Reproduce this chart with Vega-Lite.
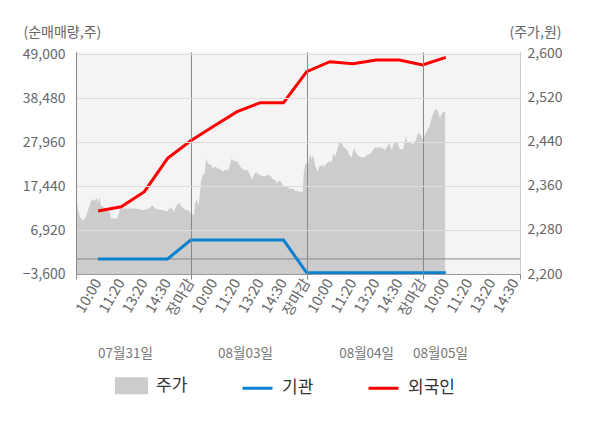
{
  "$schema": "https://vega.github.io/schema/vega-lite/v6.json",
  "width": 444,
  "height": 222,
  "autosize": {"type": "none"},
  "padding": {"left": 76, "top": 52, "right": 80, "bottom": 154},
  "config": {
    "font": "Noto Sans CJK KR",
    "view": {"stroke": null, "fill": "#f4f4f4"},
    "axis": {"titleFontWeight": "normal", "labelFontSize": 14, "titleFontSize": 14, "titleColor": "#666666", "labelColor": "#666666"},
    "legend": {"title": null}
  },
  "datasets": {
    "price": [
      {"t": -0.95, "price": 2347}, {"t": -0.86, "price": 2316}, {"t": -0.75, "price": 2302}, {"t": -0.63, "price": 2297},
      {"t": -0.53, "price": 2304}, {"t": -0.43, "price": 2316}, {"t": -0.32, "price": 2331}, {"t": -0.25, "price": 2336},
      {"t": -0.14, "price": 2333}, {"t": -0.06, "price": 2338}, {"t": 0.0, "price": 2329}, {"t": 0.05, "price": 2341},
      {"t": 0.12, "price": 2325}, {"t": 0.26, "price": 2321}, {"t": 0.4, "price": 2318}, {"t": 0.52, "price": 2310},
      {"t": 0.57, "price": 2301}, {"t": 0.83, "price": 2301}, {"t": 0.89, "price": 2310}, {"t": 0.95, "price": 2319},
      {"t": 1.12, "price": 2319}, {"t": 1.55, "price": 2319}, {"t": 1.77, "price": 2318}, {"t": 1.91, "price": 2316},
      {"t": 2.2, "price": 2319}, {"t": 2.34, "price": 2325}, {"t": 2.49, "price": 2318}, {"t": 2.84, "price": 2316},
      {"t": 2.99, "price": 2313}, {"t": 3.06, "price": 2319}, {"t": 3.2, "price": 2319}, {"t": 3.28, "price": 2313},
      {"t": 3.35, "price": 2322}, {"t": 3.49, "price": 2330}, {"t": 3.56, "price": 2325}, {"t": 3.71, "price": 2318},
      {"t": 3.92, "price": 2315}, {"t": 4.02, "price": 2310}, {"t": 4.14, "price": 2307}, {"t": 4.19, "price": 2329},
      {"t": 4.25, "price": 2336}, {"t": 4.34, "price": 2325}, {"t": 4.4, "price": 2350}, {"t": 4.45, "price": 2371},
      {"t": 4.54, "price": 2383}, {"t": 4.6, "price": 2380}, {"t": 4.66, "price": 2410}, {"t": 4.74, "price": 2401},
      {"t": 4.87, "price": 2398}, {"t": 4.97, "price": 2392}, {"t": 5.06, "price": 2396}, {"t": 5.16, "price": 2392},
      {"t": 5.3, "price": 2390}, {"t": 5.4, "price": 2386}, {"t": 5.49, "price": 2390}, {"t": 5.6, "price": 2388},
      {"t": 5.69, "price": 2398}, {"t": 5.76, "price": 2410}, {"t": 5.88, "price": 2405}, {"t": 6.02, "price": 2404},
      {"t": 6.12, "price": 2396}, {"t": 6.24, "price": 2390}, {"t": 6.45, "price": 2389}, {"t": 6.55, "price": 2380},
      {"t": 6.64, "price": 2372}, {"t": 6.73, "price": 2380}, {"t": 6.81, "price": 2385}, {"t": 6.93, "price": 2381},
      {"t": 7.1, "price": 2378}, {"t": 7.24, "price": 2378}, {"t": 7.36, "price": 2381}, {"t": 7.47, "price": 2377},
      {"t": 7.56, "price": 2371}, {"t": 7.64, "price": 2372}, {"t": 7.7, "price": 2365}, {"t": 7.82, "price": 2370},
      {"t": 7.92, "price": 2366}, {"t": 7.99, "price": 2360}, {"t": 8.18, "price": 2359}, {"t": 8.28, "price": 2354},
      {"t": 8.39, "price": 2356}, {"t": 8.51, "price": 2351}, {"t": 8.68, "price": 2350}, {"t": 8.83, "price": 2348},
      {"t": 8.88, "price": 2386}, {"t": 8.94, "price": 2400}, {"t": 9.07, "price": 2400}, {"t": 9.14, "price": 2419},
      {"t": 9.21, "price": 2409}, {"t": 9.28, "price": 2416}, {"t": 9.36, "price": 2398}, {"t": 9.46, "price": 2386},
      {"t": 9.54, "price": 2395}, {"t": 9.65, "price": 2398}, {"t": 9.74, "price": 2395}, {"t": 9.86, "price": 2401},
      {"t": 9.97, "price": 2405}, {"t": 10.08, "price": 2404}, {"t": 10.15, "price": 2419}, {"t": 10.22, "price": 2413},
      {"t": 10.32, "price": 2425}, {"t": 10.4, "price": 2438}, {"t": 10.51, "price": 2438}, {"t": 10.58, "price": 2431},
      {"t": 10.72, "price": 2427}, {"t": 10.84, "price": 2416}, {"t": 10.94, "price": 2412}, {"t": 11.04, "price": 2430},
      {"t": 11.12, "price": 2421}, {"t": 11.22, "price": 2415}, {"t": 11.37, "price": 2412}, {"t": 11.51, "price": 2412},
      {"t": 11.59, "price": 2416}, {"t": 11.76, "price": 2419}, {"t": 11.94, "price": 2430}, {"t": 12.23, "price": 2430},
      {"t": 12.37, "price": 2425}, {"t": 12.47, "price": 2431}, {"t": 12.56, "price": 2439}, {"t": 12.66, "price": 2425},
      {"t": 12.76, "price": 2438}, {"t": 12.91, "price": 2438}, {"t": 13.02, "price": 2427}, {"t": 13.16, "price": 2427},
      {"t": 13.24, "price": 2441}, {"t": 13.28, "price": 2451}, {"t": 13.34, "price": 2438}, {"t": 13.48, "price": 2438},
      {"t": 13.6, "price": 2435}, {"t": 13.71, "price": 2444}, {"t": 13.81, "price": 2456}, {"t": 13.91, "price": 2454},
      {"t": 14.0, "price": 2445}, {"t": 14.1, "price": 2453}, {"t": 14.2, "price": 2461}, {"t": 14.32, "price": 2471},
      {"t": 14.41, "price": 2487}, {"t": 14.53, "price": 2498}, {"t": 14.6, "price": 2500}, {"t": 14.67, "price": 2495},
      {"t": 14.75, "price": 2483}, {"t": 14.82, "price": 2492}, {"t": 14.92, "price": 2495}, {"t": 14.97, "price": 2495}
    ],
    "flow": [
      {"t": 0, "series": "기관", "value": 0}, {"t": 1, "series": "기관", "value": 0},
      {"t": 2, "series": "기관", "value": 0}, {"t": 3, "series": "기관", "value": 0},
      {"t": 4, "series": "기관", "value": 4530}, {"t": 5, "series": "기관", "value": 4530},
      {"t": 6, "series": "기관", "value": 4530}, {"t": 7, "series": "기관", "value": 4530},
      {"t": 8, "series": "기관", "value": 4530}, {"t": 9, "series": "기관", "value": -3300},
      {"t": 10, "series": "기관", "value": -3300}, {"t": 11, "series": "기관", "value": -3300},
      {"t": 12, "series": "기관", "value": -3300}, {"t": 13, "series": "기관", "value": -3300},
      {"t": 14, "series": "기관", "value": -3300}, {"t": 15, "series": "기관", "value": -3300},
      {"t": 0, "series": "외국인", "value": 11460}, {"t": 1, "series": "외국인", "value": 12490},
      {"t": 2, "series": "외국인", "value": 16080}, {"t": 3, "series": "외국인", "value": 24060},
      {"t": 4, "series": "외국인", "value": 28270}, {"t": 5, "series": "외국인", "value": 31790},
      {"t": 6, "series": "외국인", "value": 35210}, {"t": 7, "series": "외국인", "value": 37360},
      {"t": 8, "series": "외국인", "value": 37360}, {"t": 9, "series": "외국인", "value": 44770},
      {"t": 10, "series": "외국인", "value": 47160}, {"t": 11, "series": "외국인", "value": 46680},
      {"t": 12, "series": "외국인", "value": 47570}, {"t": 13, "series": "외국인", "value": 47570},
      {"t": 14, "series": "외국인", "value": 46370}, {"t": 15, "series": "외국인", "value": 48210}
    ]
  },
  "layer": [
    {
      "data": {"name": "price"},
      "mark": {"type": "area", "interpolate": "linear"},
      "encoding": {
        "x": {
          "field": "t",
          "type": "quantitative",
          "scale": {"domain": [-0.95, 18.2], "nice": false, "zero": false},
          "axis": {
            "orient": "bottom",
            "title": null,
            "values": [0, 1, 2, 3, 4, 5, 6, 7, 8, 9, 10, 11, 12, 13, 14, 15, 16, 17, 18],
            "labelExpr": "['10:00','11:20','13:20','14:30','장마감'][datum.value % 5]",
            "labelAngle": -60,
            "labelAlign": "right",
            "labelBaseline": "middle",
            "labelPadding": 6,
            "labelFontSize": 14.5,
            "labelOverlap": false,
            "labelFlush": false,
            "labelBound": false,
            "ticks": false,
            "tickSize": 0,
            "domain": false,
            "grid": false,
            "encode": {
              "labels": {
                "update": {
                  "fill": {"signal": "indexof([4, 9, 14], datum.value) >= 0 ? '#ff0000' : (datum.value === 15 ? '#333333' : '#777777')"}
                }
              }
            }
          }
        },
        "y": {
          "field": "price",
          "type": "quantitative",
          "scale": {"domain": [2200, 2603.6], "nice": false, "zero": false},
          "axis": {
            "orient": "right",
            "values": [2200, 2280, 2360, 2440, 2520, 2600],
            "format": ",.0f",
            "ticks": false,
            "tickSize": 0,
            "labelPadding": 7,
            "domainColor": "#cccccc",
            "grid": false,
            "title": "(주가,원)",
            "titleAngle": 0,
            "titleAlign": "left",
            "titleBaseline": "middle",
            "titleX": -11,
            "titleY": -20
          }
        },
        "y2": {"datum": 2200},
        "color": {
          "datum": "주가",
          "type": "nominal",
          "scale": {"domain": ["주가", "기관", "외국인"], "range": ["#cccccc", "#0a80d0", "#ff0000"]},
          "legend": {
            "orient": "none",
            "legendX": 39,
            "legendY": 317,
            "direction": "horizontal",
            "columns": 3,
            "gridAlign": "all",
            "title": null,
            "symbolSize": 900,
            "labelFontSize": 17,
            "labelColor": "#333333",
            "labelOffset": 8,
            "columnPadding": 33,
            "encode": {
              "symbols": {
                "update": {
                  "shape": {"signal": "datum.label === '주가' ? 'M-1,-0.47H1V0.47H-1Z' : 'M-1,0H1'"},
                  "fill": {"signal": "datum.label === '주가' ? '#cccccc' : 'transparent'"},
                  "stroke": {"signal": "datum.label === '주가' ? 'transparent' : (datum.label === '기관' ? '#0a80d0' : '#ff0000')"},
                  "strokeWidth": {"value": 3},
                  "opacity": {"value": 1}
                }
              }
            }
          }
        }
      }
    },
    {
      "encoding": {
        "y": {
          "field": "value",
          "type": "quantitative",
          "scale": {"domain": [-3600, 49480], "nice": false, "zero": false},
          "axis": {
            "orient": "left",
            "values": [-3600, 6920, 17440, 27960, 38480, 49000],
            "format": ",.0f",
            "ticks": false,
            "tickSize": 0,
            "labelPadding": 11,
            "domainColor": "#888888",
            "grid": true,
            "gridColor": "#dddddd",
            "zindex": 1,
            "title": "(순매매량,주)",
            "titleAngle": 0,
            "titleAlign": "left",
            "titleBaseline": "middle",
            "titleX": -53,
            "titleY": -20
          }
        }
      },
      "layer": [
        {
          "data": {"values": [{"value": 0}]},
          "mark": {"type": "rule", "color": "#888888", "strokeWidth": 1}
        },
        {
          "data": {"name": "flow"},
          "transform": [{"filter": "datum.series === '기관'"}],
          "mark": {"type": "line", "strokeWidth": 3},
          "encoding": {
            "x": {
              "field": "t",
              "type": "quantitative",
              "axis": {
                "orient": "bottom",
                "title": null,
                "values": [-0.95, 4, 9, 14, 18.2],
                "labels": false,
                "ticks": true,
                "tickSize": 5,
                "tickColor": "#888888",
                "domain": true,
                "domainColor": "#999999",
                "grid": true,
                "gridColor": {"condition": {"test": "datum.value > 18", "value": "#cccccc"}, "value": "#888888"},
                "zindex": 1
              }
            },
            "color": {"field": "series", "type": "nominal", "legend": {"title": null}}
          }
        },
        {
          "data": {"name": "flow"},
          "transform": [{"filter": "datum.series === '외국인'"}],
          "mark": {"type": "line", "strokeWidth": 3},
          "encoding": {
            "x": {
              "field": "t",
              "type": "quantitative",
              "axis": {
                "orient": "bottom",
                "title": null,
                "values": [1.16, 6.34, 11.56, 14.75],
                "labelExpr": "datum.value < 3 ? '07월31일' : (datum.value < 8 ? '08월03일' : (datum.value < 13 ? '08월04일' : '08월05일'))",
                "labelAngle": 0,
                "labelAlign": "center",
                "labelBaseline": "middle",
                "labelPadding": 79,
                "labelFontSize": 13.5,
                "labelColor": "#777777",
                "labelOverlap": false,
                "labelFlush": false,
                "ticks": false,
                "tickSize": 0,
                "domain": false,
                "grid": false
              }
            },
            "color": {"field": "series", "type": "nominal", "legend": {"title": null}}
          }
        }
      ],
      "resolve": {"axis": {"x": "independent"}}
    }
  ],
  "resolve": {"scale": {"y": "independent"}, "axis": {"x": "independent"}}
}
